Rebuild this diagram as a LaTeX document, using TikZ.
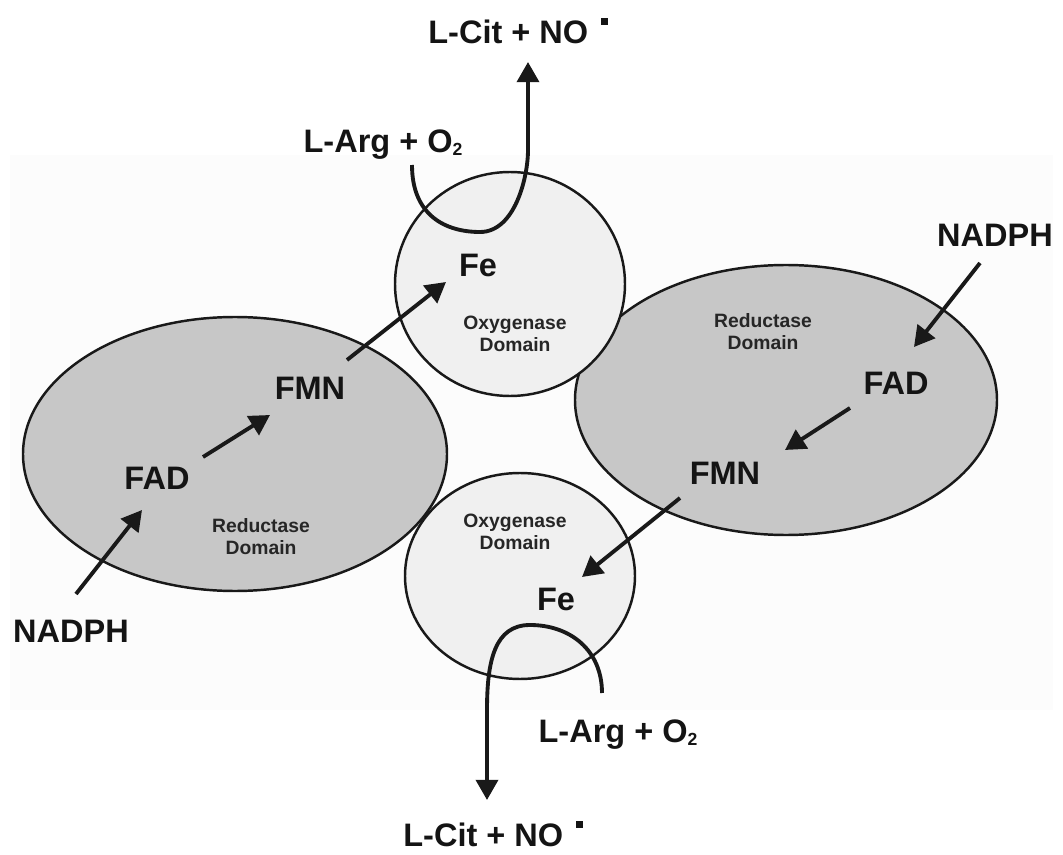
\documentclass[tikz,border=0pt]{standalone}
\usepackage{fontspec}
\setmainfont{Liberation Sans}
\usetikzlibrary{arrows.meta, calc}

\newcommand\subtwo{\raisebox{-0.1em}{\fontsize{10}{10}\selectfont 2}}
\newcommand\radot{\hspace{0.4em}\raisebox{0.58em}{\rule{0.2em}{0.2em}}}

\begin{document}
\begin{tikzpicture}[x=0.02cm, y=-0.02cm,
  lbl/.style={font=\fontsize{18.5}{20}\selectfont\bfseries, text=black!92, inner sep=0pt, text height=13pt, text depth=0pt},
  dom/.style={font=\fontsize{11}{12.5}\selectfont\bfseries, text=black!85, align=center, inner sep=0pt},
  redu/.style={draw=black!90, line width=1.4pt, fill=black!22},
  oxy/.style={draw=black!90, line width=1.4pt, fill=black!6},
  arr/.style={line width=2.2pt, black!90, -{Triangle[length=11.5pt, width=12.5pt]}}]
\useasboundingbox (0,0) rectangle (1063,855);
% background
\fill[black!1] (10,155) rectangle (1053,710);
% domains
\filldraw[redu] (235,454) ellipse [x radius=212, y radius=137];
\filldraw[redu] (786,400) ellipse [x radius=211, y radius=135];
\filldraw[oxy] (510,284) ellipse [x radius=115, y radius=112];
\filldraw[oxy] (520,576) ellipse [x radius=115, y radius=103];
% left reductase
\node[lbl] (nadphL) at (71,631) {NADPH};
\node[lbl] (fadL) at (157,478) {FAD};
\node[lbl] (fmnL) at (310,388) {FMN};
\node[dom] (redL) at (261,537) {Reductase\\Domain};
% top oxygenase
\node[lbl] (feT) at (478,265) {Fe};
\node[dom] (oxyT) at (515,334) {Oxygenase\\Domain};
\node[lbl] (argT) at (383,141) {L-Arg + O\subtwo};
\node[lbl] (citT) at (518,32) {L-Cit + NO\radot};
% right reductase
\node[lbl] (nadphR) at (995,235) {NADPH};
\node[lbl] (fadR) at (896,383) {FAD};
\node[lbl] (fmnR) at (725,473) {FMN};
\node[dom] (redR) at (763,332) {Reductase\\Domain};
% bottom oxygenase
\node[dom] (oxyB) at (515,532) {Oxygenase\\Domain};
\node[lbl] (feB) at (556,599) {Fe};
\node[lbl] (argB) at (618,731) {L-Arg + O\subtwo};
\node[lbl] (citB) at (493,835) {L-Cit + NO\radot};
% electron flow
\draw[arr] ($(nadphL)+(5,-37)$) -- ($(fadL)+(-15,32)$);
\draw[arr] ($(fadL)+(46,-21)$) -- ($(fmnL)+(-40,27)$);
\draw[arr] ($(fmnL)+(37,-28)$) -- ($(feT)+(-32,17)$);
\draw[arr] ($(nadphR)+(-15,28)$) -- ($(fadR)+(18,-36)$);
\draw[arr] ($(fadR)+(-46,25)$) -- ($(fmnR)+(60,-23)$);
\draw[arr] ($(fmnR)+(-45,25)$) -- ($(feB)+(26,-22)$);
% substrate in, product out
\draw[arr] ($(argT)+(29,24)$) .. controls +(0,50) and +(-35,0) .. ++(68,67)
  .. controls +(35,0) and +(0,27) .. ++(48,-82) -- ($(citT)+(10,30)$);
\draw[arr] ($(argB)+(-16,-38)$) .. controls +(0,-43) and +(40,0) .. ++(-72,-68)
  .. controls +(-35,0) and +(0,-50) .. ++(-43,85) -- ($(citB)+(-6,-35)$);
\end{tikzpicture}
\end{document}
